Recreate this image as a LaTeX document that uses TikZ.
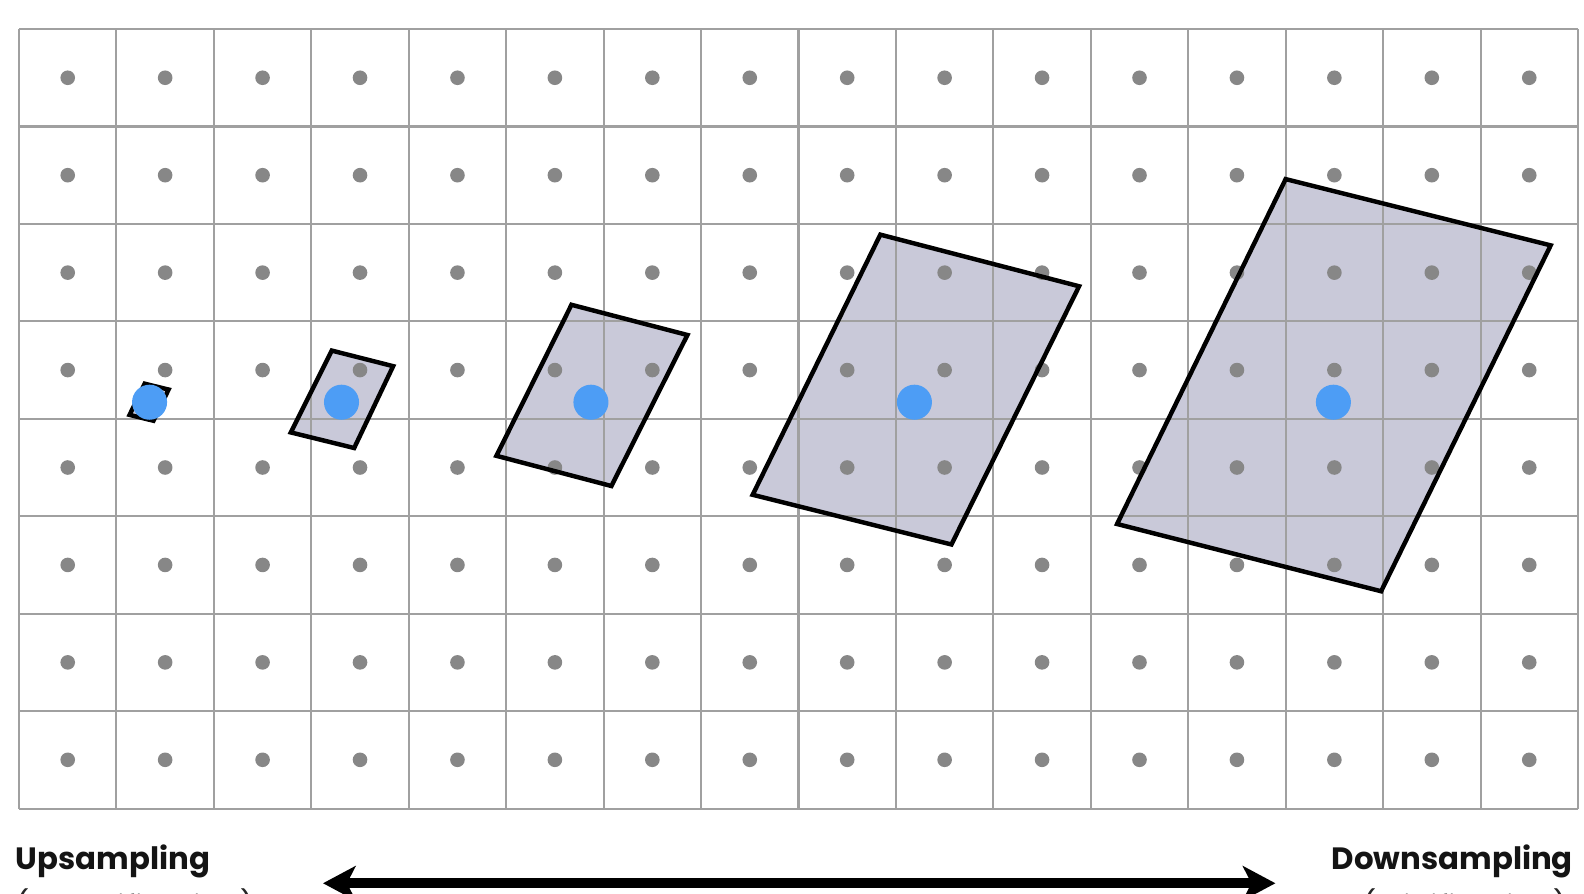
\documentclass[tikz,border=0pt]{standalone}
\usepackage{fontspec}
\usepackage{tikz}
\usetikzlibrary{arrows.meta}
\newfontfamily\labelfont{Poppins}
\definecolor{gridgray}{RGB}{160,160,160}
\definecolor{dotgray}{RGB}{135,135,135}
\definecolor{sampleblue}{RGB}{77,157,245}
\definecolor{footfill}{RGB}{201,201,217}

\begin{document}
\begin{tikzpicture}[
  gridline/.style={gridgray,line width=0.6pt},
  footprint/.style={line width=1.3pt,line join=miter},
  sample/.style={circle,fill=sampleblue,inner sep=0pt,minimum size=0.36cm},
  caption/.style={font=\labelfont\bfseries\fontsize{9}{11}\selectfont,text=black!92,inner sep=0pt},
  subcaption/.style={font=\labelfont\fontsize{9}{11}\selectfont,text=black!85,inner sep=0pt}]
 \useasboundingbox (-0.195,-0.873) rectangle (16.062,8.298);
 \clip (-0.195,-0.873) rectangle (16.062,8.298);
 % pixel footprints
 \coordinate (f1a) at (1.29,4.36);  \coordinate (f1b) at (1.535,4.30);
 \coordinate (f1c) at (1.38,3.98);  \coordinate (f1d) at (1.135,4.04);
 \coordinate (f2a) at (3.21,4.70);  \coordinate (f2b) at (3.84,4.54);
 \coordinate (f2c) at (3.44,3.70);  \coordinate (f2d) at (2.79,3.86);
 \coordinate (f3a) at (5.67,5.17);  \coordinate (f3b) at (6.86,4.86);
 \coordinate (f3c) at (6.08,3.31);  \coordinate (f3d) at (4.90,3.62);
 \coordinate (f4a) at (8.84,5.89);  \coordinate (f4b) at (10.88,5.36);
 \coordinate (f4c) at (9.57,2.71);  \coordinate (f4d) at (7.53,3.22);
 \coordinate (f5a) at (13.00,6.46); \coordinate (f5b) at (15.72,5.78);
 \coordinate (f5c) at (13.98,2.23); \coordinate (f5d) at (11.27,2.92);
 \foreach \n in {1,...,5}
  \fill[footfill] (f\n a)--(f\n b)--(f\n c)--(f\n d)--cycle;
 % texel grid
 \draw[gridline] (0,0) grid (16,8);
 \foreach \i in {0,...,15}
  \foreach \j in {0,...,7}
   \fill[dotgray] (\i+0.5,\j+0.5) circle (0.075);
 \foreach \n in {1,...,5}
  \draw[footprint] (f\n a)--(f\n b)--(f\n c)--(f\n d)--cycle;
 % screen samples
 \node[sample] (s1) at (1.34,4.17) {};
 \node[sample] (s2) at (3.31,4.17) {};
 \node[sample] (s3) at (5.87,4.17) {};
 \node[sample] (s4) at (9.19,4.17) {};
 \node[sample] (s5) at (13.49,4.17) {};
 % labels
 \node[caption,anchor=base west] (up) at (-0.04,-0.626) {Upsampling};
 \node[subcaption,anchor=base west] (upsub) at (-0.04,-1.12) {(Magnification)};
 \node[caption,anchor=base east] (down) at (15.955,-0.626) {Downsampling};
 \node[subcaption,anchor=base east] (downsub) at (15.90,-1.12) {(Minification)};
 \coordinate (arrL) at (3.12,-0.767);
 \coordinate (arrR) at (12.895,-0.767);
 \draw[line width=2.8pt,{Stealth[length=9.5pt,width=10pt,inset=2.5pt]}-{Stealth[length=9.5pt,width=10pt,inset=2.5pt]}] (arrL) -- (arrR);
\end{tikzpicture}
\end{document}
